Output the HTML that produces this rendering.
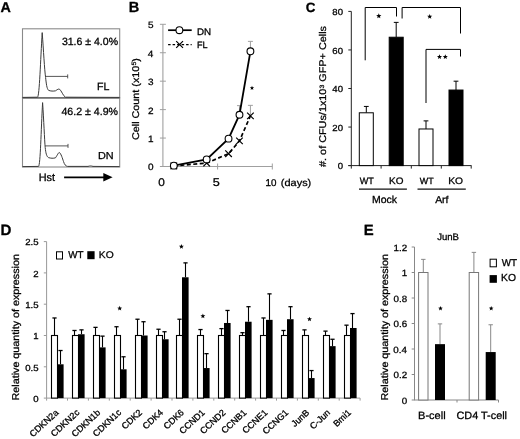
<!DOCTYPE html>
<html><head><meta charset="utf-8"><style>
html,body{margin:0;padding:0;background:#fff;width:520px;height:439px;overflow:hidden}
svg{display:block;will-change:transform;filter:blur(0.3px)}
text{font-family:"Liberation Sans", sans-serif;fill:#000;text-rendering:geometricPrecision;stroke:#000;stroke-width:0.3px}
</style></head><body>
<svg width="520" height="439" viewBox="0 0 520 439">
<text transform="translate(0.54,11.60) scale(1,1.000)" font-size="14.33" font-weight="bold">A</text>
<rect x="22.5" y="28.8" width="97.2" height="69" fill="none" stroke="#8a8a8a" stroke-width="1.1"/>
<rect x="22.5" y="97.8" width="97.2" height="69.2" fill="none" stroke="#8a8a8a" stroke-width="1.1"/>
<line x1="22.5" y1="97.8" x2="119.7" y2="97.8" stroke="#666" stroke-width="1.2"/>
<path d="M22.5,97.4 L37.5,97.2 C39.5,96 40.5,60 42.2,32.6 C43.5,50 44.5,70 45.6,77.5 C46.3,84 46.8,88.5 48.5,90.3 C50.5,91.2 53.5,91.3 55.5,90.8 C57.5,89.5 58.5,88.7 59.5,89.2 C61.5,90.5 63,96 65.5,97.2 L119.5,97.4" fill="none" stroke="#3a3a3a" stroke-width="1.0"/>
<path d="M22.5,166.6 L38.5,166.4 C40.5,165 41,130 42.6,102.6 C43.8,120 44.5,140 45.2,147.5 C45.8,153 46.5,156.5 48.5,157.6 C50.5,158.3 53.5,158.5 55.5,157.8 C57.5,155 58.5,152.2 59.4,152.5 C61,153.5 62.5,158.5 63.5,161.5 C64.5,164.5 65.5,166 67.5,166.4 L88,166.4 C90,165.8 91,165.8 93,166.4 L119.5,166.6" fill="none" stroke="#3a3a3a" stroke-width="1.0"/>
<path d="M45.1,76.4 H67.7 M67.7,74.4 V78.4" stroke="#444" stroke-width="0.9" fill="none"/>
<path d="M45.1,145.9 H68 M68,143.9 V147.9" stroke="#444" stroke-width="0.9" fill="none"/>
<text transform="translate(61.88,44.80) scale(1,0.989)" font-size="10.54">31.6 ± 4.0%</text>
<text transform="translate(96.95,89.80) scale(1,1.000)" font-size="10.62">FL</text>
<text transform="translate(61.43,114.80) scale(1,0.981)" font-size="10.63">46.2 ± 4.9%</text>
<text transform="translate(98.03,159.00) scale(1,0.934)" font-size="10.86">DN</text>
<text transform="translate(38.73,181.29) scale(1,1.000)" font-size="10.85">Hst</text>
<path d="M64.1,177.3 H104.5" stroke="#000" stroke-width="1.7"/>
<path d="M103.3,173.1 L112.6,177.3 L103.3,181.5 Z" fill="#000"/>
<text transform="translate(128.85,12.10) scale(1,1.000)" font-size="14.59" font-weight="bold">B</text>
<line x1="162.90" y1="24.30" x2="162.90" y2="166.50" stroke="#a0a0a0" stroke-width="1.1" />
<line x1="162.90" y1="166.50" x2="272.30" y2="166.50" stroke="#a0a0a0" stroke-width="1.1" />
<line x1="159.90" y1="166.50" x2="165.90" y2="166.50" stroke="#a0a0a0" stroke-width="1" />
<text transform="translate(147.95,170.37) scale(1,0.920)" font-size="10.00">0</text>
<line x1="159.90" y1="138.06" x2="165.90" y2="138.06" stroke="#a0a0a0" stroke-width="1" />
<text transform="translate(148.05,141.93) scale(1,0.920)" font-size="10.00">1</text>
<line x1="159.90" y1="109.62" x2="165.90" y2="109.62" stroke="#a0a0a0" stroke-width="1" />
<text transform="translate(148.05,113.54) scale(1,0.920)" font-size="10.00">2</text>
<line x1="159.90" y1="81.18" x2="165.90" y2="81.18" stroke="#a0a0a0" stroke-width="1" />
<text transform="translate(148.00,85.05) scale(1,0.920)" font-size="10.00">3</text>
<line x1="159.90" y1="52.74" x2="165.90" y2="52.74" stroke="#a0a0a0" stroke-width="1" />
<text transform="translate(147.85,56.61) scale(1,0.920)" font-size="10.00">4</text>
<line x1="159.90" y1="24.30" x2="165.90" y2="24.30" stroke="#a0a0a0" stroke-width="1" />
<text transform="translate(147.95,28.13) scale(1,0.920)" font-size="10.00">5</text>
<line x1="217.60" y1="163.50" x2="217.60" y2="169.50" stroke="#a0a0a0" stroke-width="1" />
<line x1="272.30" y1="163.50" x2="272.30" y2="169.50" stroke="#a0a0a0" stroke-width="1" />
<text transform="translate(158.33,186.49) scale(1,0.944)" font-size="11.79">0</text>
<text transform="translate(212.79,186.49) scale(1,0.893)" font-size="12.63">5</text>
<text transform="translate(265.52,186.30) scale(1,1.000)" font-size="9.80">10</text>
<text transform="translate(280.84,185.83) scale(1,0.898)" font-size="10.96">(days)</text>
<text transform="translate(138.80,140.04) rotate(-90) scale(1,0.900)" font-size="10.81"><tspan>Cell Count (x10</tspan><tspan font-size="6.92" dy="-2.92">5</tspan><tspan font-size="10.81" dy="2.92">)</tspan></text>
<line x1="239.48" y1="114.74" x2="239.48" y2="105.64" stroke="#a0a0a0" stroke-width="1" />
<line x1="236.98" y1="105.64" x2="241.98" y2="105.64" stroke="#a0a0a0" stroke-width="1" />
<line x1="250.42" y1="51.32" x2="250.42" y2="41.36" stroke="#a0a0a0" stroke-width="1" />
<line x1="247.92" y1="41.36" x2="252.92" y2="41.36" stroke="#a0a0a0" stroke-width="1" />
<line x1="250.42" y1="115.88" x2="250.42" y2="105.35" stroke="#a0a0a0" stroke-width="1" />
<line x1="247.92" y1="105.35" x2="252.92" y2="105.35" stroke="#a0a0a0" stroke-width="1" />
<polyline points="173.84,165.93 206.66,163.09 228.54,153.70 239.48,140.90 250.42,115.88" fill="none" stroke="#000" stroke-width="1.7" stroke-dasharray="4,2.5"/>
<polyline points="173.84,165.65 206.66,159.39 228.54,138.63 239.48,114.74 250.42,51.32" fill="none" stroke="#000" stroke-width="1.8"/>
<path d="M170.54,162.63 L177.14,169.23 M170.54,169.23 L177.14,162.63" stroke="#000" stroke-width="1.2"/>
<path d="M203.36,159.79 L209.96,166.39 M203.36,166.39 L209.96,159.79" stroke="#000" stroke-width="1.2"/>
<path d="M225.24,150.40 L231.84,157.00 M225.24,157.00 L231.84,150.40" stroke="#000" stroke-width="1.2"/>
<path d="M236.18,137.60 L242.78,144.20 M236.18,144.20 L242.78,137.60" stroke="#000" stroke-width="1.2"/>
<path d="M247.12,112.58 L253.72,119.18 M247.12,119.18 L253.72,112.58" stroke="#000" stroke-width="1.2"/>
<circle cx="173.84" cy="165.65" r="3.4" fill="#fff" stroke="#000" stroke-width="1.1"/>
<circle cx="206.66" cy="159.39" r="3.4" fill="#fff" stroke="#000" stroke-width="1.1"/>
<circle cx="228.54" cy="138.63" r="3.4" fill="#fff" stroke="#000" stroke-width="1.1"/>
<circle cx="239.48" cy="114.74" r="3.4" fill="#fff" stroke="#000" stroke-width="1.1"/>
<circle cx="250.42" cy="51.32" r="3.4" fill="#fff" stroke="#000" stroke-width="1.1"/>
<polygon points="252.00,85.75 252.59,87.24 254.19,87.34 252.95,88.36 253.35,89.91 252.00,89.05 250.65,89.91 251.05,88.36 249.81,87.34 251.41,87.24" fill="#000"/>
<line x1="168.10" y1="30.20" x2="191.70" y2="30.20" stroke="#000" stroke-width="1.7" />
<circle cx="179.4" cy="30.2" r="3.4" fill="#fff" stroke="#000" stroke-width="1.1"/>
<text transform="translate(196.92,34.50) scale(1,0.965)" font-size="9.77">DN</text>
<line x1="168.1" y1="44.6" x2="191.7" y2="44.6" stroke="#000" stroke-width="1.4" stroke-dasharray="2.5,2"/>
<path d="M176.20,41.10 L183.00,47.90 M176.20,47.90 L183.00,41.10" stroke="#000" stroke-width="1.2"/>
<text transform="translate(196.97,48.40) scale(1,1.000)" font-size="9.10">FL</text>
<text transform="translate(305.66,11.97) scale(1,1.000)" font-size="13.44" font-weight="bold">C</text>
<line x1="351.30" y1="11.40" x2="351.30" y2="165.60" stroke="#222" stroke-width="1" />
<line x1="348.30" y1="165.60" x2="471.50" y2="165.60" stroke="#222" stroke-width="1" />
<line x1="348.30" y1="165.60" x2="351.30" y2="165.60" stroke="#222" stroke-width="1" />
<text transform="translate(337.66,169.15) scale(1,0.920)" font-size="9.60">0</text>
<line x1="348.30" y1="127.05" x2="351.30" y2="127.05" stroke="#222" stroke-width="1" />
<text transform="translate(332.33,130.60) scale(1,0.920)" font-size="9.60">20</text>
<line x1="348.30" y1="88.50" x2="351.30" y2="88.50" stroke="#222" stroke-width="1" />
<text transform="translate(332.33,92.05) scale(1,0.920)" font-size="9.60">40</text>
<line x1="348.30" y1="49.95" x2="351.30" y2="49.95" stroke="#222" stroke-width="1" />
<text transform="translate(332.33,53.50) scale(1,0.920)" font-size="9.60">60</text>
<line x1="348.30" y1="11.40" x2="351.30" y2="11.40" stroke="#222" stroke-width="1" />
<text transform="translate(332.33,14.95) scale(1,0.920)" font-size="9.60">80</text>
<line x1="351.30" y1="165.60" x2="351.30" y2="168.60" stroke="#222" stroke-width="1" />
<line x1="381.10" y1="165.60" x2="381.10" y2="168.60" stroke="#222" stroke-width="1" />
<line x1="411.30" y1="165.60" x2="411.30" y2="168.60" stroke="#222" stroke-width="1" />
<line x1="441.30" y1="165.60" x2="441.30" y2="168.60" stroke="#222" stroke-width="1" />
<line x1="471.20" y1="165.60" x2="471.20" y2="168.60" stroke="#222" stroke-width="1" />
<line x1="366.30" y1="112.79" x2="366.30" y2="106.43" stroke="#000" stroke-width="1" />
<line x1="363.90" y1="106.43" x2="368.70" y2="106.43" stroke="#000" stroke-width="1" />
<rect x="359.30" y="112.79" width="14.00" height="52.81" fill="#fff" stroke="#000" stroke-width="1"/>
<line x1="396.20" y1="37.23" x2="396.20" y2="22.39" stroke="#000" stroke-width="1" />
<line x1="393.80" y1="22.39" x2="398.60" y2="22.39" stroke="#000" stroke-width="1" />
<rect x="389.20" y="37.23" width="14.00" height="128.37" fill="#000" stroke="#000" stroke-width="1"/>
<line x1="426.00" y1="128.98" x2="426.00" y2="120.88" stroke="#000" stroke-width="1" />
<line x1="423.60" y1="120.88" x2="428.40" y2="120.88" stroke="#000" stroke-width="1" />
<rect x="419.00" y="128.98" width="14.00" height="36.62" fill="#fff" stroke="#000" stroke-width="1"/>
<line x1="456.00" y1="90.04" x2="456.00" y2="81.18" stroke="#000" stroke-width="1" />
<line x1="453.60" y1="81.18" x2="458.40" y2="81.18" stroke="#000" stroke-width="1" />
<rect x="449.00" y="90.04" width="14.00" height="75.56" fill="#000" stroke="#000" stroke-width="1"/>
<path d="M365.2,60.3 V7.5 H396.5 V16.5" fill="none" stroke="#000" stroke-width="1"/>
<path d="M402.1,18.5 V7.5 H460.5 V33.5" fill="none" stroke="#000" stroke-width="1"/>
<path d="M426,103 V49.4 H460.5 V56.5" fill="none" stroke="#000" stroke-width="1"/>
<polygon points="378.80,13.35 379.48,15.12 381.37,15.22 379.89,16.41 380.39,18.23 378.80,17.20 377.21,18.23 377.71,16.41 376.23,15.22 378.12,15.12" fill="#000"/>
<polygon points="429.70,13.95 430.38,15.72 432.27,15.82 430.79,17.01 431.29,18.83 429.70,17.80 428.11,18.83 428.61,17.01 427.13,15.82 429.02,15.72" fill="#000"/>
<polygon points="439.50,54.15 440.18,55.92 442.07,56.02 440.59,57.21 441.09,59.03 439.50,58.00 437.91,59.03 438.41,57.21 436.93,56.02 438.82,55.92" fill="#000"/>
<polygon points="445.30,54.15 445.98,55.92 447.87,56.02 446.39,57.21 446.89,59.03 445.30,58.00 443.71,59.03 444.21,57.21 442.73,56.02 444.62,55.92" fill="#000"/>
<text transform="translate(359.75,183.90) scale(1,1.000)" font-size="9.08">WT</text>
<text transform="translate(389.00,183.81) scale(1,0.947)" font-size="9.96">KO</text>
<text transform="translate(419.76,183.90) scale(1,1.000)" font-size="8.95">WT</text>
<text transform="translate(448.18,183.81) scale(1,0.919)" font-size="10.27">KO</text>
<line x1="359.00" y1="189.20" x2="406.90" y2="189.20" stroke="#111" stroke-width="1.3" />
<line x1="417.50" y1="189.20" x2="465.80" y2="189.20" stroke="#111" stroke-width="1.3" />
<text transform="translate(372.06,203.10) scale(1,0.974)" font-size="10.48">Mock</text>
<text transform="translate(435.15,202.90) scale(1,0.952)" font-size="10.43">Arf</text>
<text transform="translate(326.30,166.95) rotate(-90) scale(1,0.900)" font-size="10.85"><tspan>#. of CFUs/1x10</tspan><tspan font-size="6.94" dy="-2.93">3</tspan><tspan font-size="10.85" dy="2.93"> GFP+ Cells</tspan></text>
<text transform="translate(0.42,234.60) scale(1,0.987)" font-size="15.12" font-weight="bold">D</text>
<line x1="46.60" y1="241.60" x2="46.60" y2="398.10" stroke="#999" stroke-width="1" />
<line x1="46.60" y1="398.10" x2="360.10" y2="398.10" stroke="#999" stroke-width="1" />
<line x1="43.80" y1="398.10" x2="46.60" y2="398.10" stroke="#999" stroke-width="1" />
<text transform="translate(33.26,401.80) scale(1,0.920)" font-size="9.60">0</text>
<line x1="43.80" y1="366.80" x2="46.60" y2="366.80" stroke="#999" stroke-width="1" />
<text transform="translate(25.24,370.50) scale(1,0.920)" font-size="9.60">0.5</text>
<line x1="43.80" y1="335.50" x2="46.60" y2="335.50" stroke="#999" stroke-width="1" />
<text transform="translate(33.35,339.20) scale(1,0.920)" font-size="9.60">1</text>
<line x1="43.80" y1="304.20" x2="46.60" y2="304.20" stroke="#999" stroke-width="1" />
<text transform="translate(25.24,307.85) scale(1,0.920)" font-size="9.60">1.5</text>
<line x1="43.80" y1="272.90" x2="46.60" y2="272.90" stroke="#999" stroke-width="1" />
<text transform="translate(33.35,276.64) scale(1,0.920)" font-size="9.60">2</text>
<line x1="43.80" y1="241.60" x2="46.60" y2="241.60" stroke="#999" stroke-width="1" />
<text transform="translate(25.24,245.30) scale(1,0.920)" font-size="9.60">2.5</text>
<line x1="46.60" y1="398.10" x2="46.60" y2="400.60" stroke="#999" stroke-width="1" />
<line x1="67.50" y1="398.10" x2="67.50" y2="400.60" stroke="#999" stroke-width="1" />
<line x1="88.40" y1="398.10" x2="88.40" y2="400.60" stroke="#999" stroke-width="1" />
<line x1="109.30" y1="398.10" x2="109.30" y2="400.60" stroke="#999" stroke-width="1" />
<line x1="130.20" y1="398.10" x2="130.20" y2="400.60" stroke="#999" stroke-width="1" />
<line x1="151.10" y1="398.10" x2="151.10" y2="400.60" stroke="#999" stroke-width="1" />
<line x1="172.00" y1="398.10" x2="172.00" y2="400.60" stroke="#999" stroke-width="1" />
<line x1="192.90" y1="398.10" x2="192.90" y2="400.60" stroke="#999" stroke-width="1" />
<line x1="213.80" y1="398.10" x2="213.80" y2="400.60" stroke="#999" stroke-width="1" />
<line x1="234.70" y1="398.10" x2="234.70" y2="400.60" stroke="#999" stroke-width="1" />
<line x1="255.60" y1="398.10" x2="255.60" y2="400.60" stroke="#999" stroke-width="1" />
<line x1="276.50" y1="398.10" x2="276.50" y2="400.60" stroke="#999" stroke-width="1" />
<line x1="297.40" y1="398.10" x2="297.40" y2="400.60" stroke="#999" stroke-width="1" />
<line x1="318.30" y1="398.10" x2="318.30" y2="400.60" stroke="#999" stroke-width="1" />
<line x1="339.20" y1="398.10" x2="339.20" y2="400.60" stroke="#999" stroke-width="1" />
<line x1="360.10" y1="398.10" x2="360.10" y2="400.60" stroke="#999" stroke-width="1" />
<line x1="54.50" y1="335.50" x2="54.50" y2="317.97" stroke="#000" stroke-width="1.1" />
<line x1="52.40" y1="317.97" x2="56.60" y2="317.97" stroke="#000" stroke-width="1.3" />
<line x1="60.50" y1="364.30" x2="60.50" y2="350.52" stroke="#000" stroke-width="1.1" />
<line x1="58.40" y1="350.52" x2="62.60" y2="350.52" stroke="#000" stroke-width="1.3" />
<rect x="51.50" y="335.50" width="6.00" height="62.60" fill="#fff" stroke="#000" stroke-width="1.1"/>
<rect x="57.00" y="364.30" width="6.60" height="33.80" fill="#000" stroke="none" stroke-width="0"/>
<text transform="translate(59.05,413.30) rotate(-43)" font-size="9.0" text-anchor="end">CDKN2a</text>
<line x1="74.50" y1="335.50" x2="74.50" y2="330.49" stroke="#000" stroke-width="1.1" />
<line x1="72.40" y1="330.49" x2="76.60" y2="330.49" stroke="#000" stroke-width="1.3" />
<line x1="81.50" y1="334.25" x2="81.50" y2="329.87" stroke="#000" stroke-width="1.1" />
<line x1="79.40" y1="329.87" x2="83.60" y2="329.87" stroke="#000" stroke-width="1.3" />
<rect x="72.50" y="335.50" width="6.00" height="62.60" fill="#fff" stroke="#000" stroke-width="1.1"/>
<rect x="78.00" y="334.25" width="6.60" height="63.85" fill="#000" stroke="none" stroke-width="0"/>
<text transform="translate(79.95,413.30) rotate(-43)" font-size="9.0" text-anchor="end">CDKN2c</text>
<line x1="95.50" y1="335.50" x2="95.50" y2="327.36" stroke="#000" stroke-width="1.1" />
<line x1="93.40" y1="327.36" x2="97.60" y2="327.36" stroke="#000" stroke-width="1.3" />
<line x1="102.50" y1="347.39" x2="102.50" y2="336.13" stroke="#000" stroke-width="1.1" />
<line x1="100.40" y1="336.13" x2="104.60" y2="336.13" stroke="#000" stroke-width="1.3" />
<rect x="93.50" y="335.50" width="6.00" height="62.60" fill="#fff" stroke="#000" stroke-width="1.1"/>
<rect x="99.00" y="347.39" width="6.60" height="50.71" fill="#000" stroke="none" stroke-width="0"/>
<text transform="translate(100.85,413.30) rotate(-43)" font-size="9.0" text-anchor="end">CDKN1b</text>
<line x1="116.50" y1="335.50" x2="116.50" y2="326.74" stroke="#000" stroke-width="1.1" />
<line x1="114.40" y1="326.74" x2="118.60" y2="326.74" stroke="#000" stroke-width="1.3" />
<line x1="123.50" y1="369.30" x2="123.50" y2="356.78" stroke="#000" stroke-width="1.1" />
<line x1="121.40" y1="356.78" x2="125.60" y2="356.78" stroke="#000" stroke-width="1.3" />
<rect x="114.50" y="335.50" width="6.00" height="62.60" fill="#fff" stroke="#000" stroke-width="1.1"/>
<rect x="120.00" y="369.30" width="6.60" height="28.80" fill="#000" stroke="none" stroke-width="0"/>
<text transform="translate(121.75,413.30) rotate(-43)" font-size="9.0" text-anchor="end">CDKN1c</text>
<line x1="137.50" y1="335.50" x2="137.50" y2="319.22" stroke="#000" stroke-width="1.1" />
<line x1="135.40" y1="319.22" x2="139.60" y2="319.22" stroke="#000" stroke-width="1.3" />
<line x1="143.50" y1="335.50" x2="143.50" y2="321.73" stroke="#000" stroke-width="1.1" />
<line x1="141.40" y1="321.73" x2="145.60" y2="321.73" stroke="#000" stroke-width="1.3" />
<rect x="135.50" y="335.50" width="6.00" height="62.60" fill="#fff" stroke="#000" stroke-width="1.1"/>
<rect x="141.00" y="335.50" width="6.60" height="62.60" fill="#000" stroke="none" stroke-width="0"/>
<text transform="translate(142.65,413.30) rotate(-43)" font-size="9.0" text-anchor="end">CDK2</text>
<line x1="158.50" y1="335.50" x2="158.50" y2="329.24" stroke="#000" stroke-width="1.1" />
<line x1="156.40" y1="329.24" x2="160.60" y2="329.24" stroke="#000" stroke-width="1.3" />
<line x1="164.50" y1="339.26" x2="164.50" y2="331.74" stroke="#000" stroke-width="1.1" />
<line x1="162.40" y1="331.74" x2="166.60" y2="331.74" stroke="#000" stroke-width="1.3" />
<rect x="156.50" y="335.50" width="6.00" height="62.60" fill="#fff" stroke="#000" stroke-width="1.1"/>
<rect x="162.00" y="339.26" width="6.60" height="58.84" fill="#000" stroke="none" stroke-width="0"/>
<text transform="translate(163.55,413.30) rotate(-43)" font-size="9.0" text-anchor="end">CDK4</text>
<line x1="179.50" y1="335.50" x2="179.50" y2="319.22" stroke="#000" stroke-width="1.1" />
<line x1="177.40" y1="319.22" x2="181.60" y2="319.22" stroke="#000" stroke-width="1.3" />
<line x1="185.50" y1="277.28" x2="185.50" y2="262.88" stroke="#000" stroke-width="1.1" />
<line x1="183.40" y1="262.88" x2="187.60" y2="262.88" stroke="#000" stroke-width="1.3" />
<rect x="176.50" y="335.50" width="6.00" height="62.60" fill="#fff" stroke="#000" stroke-width="1.1"/>
<rect x="182.00" y="277.28" width="6.60" height="120.82" fill="#000" stroke="none" stroke-width="0"/>
<text transform="translate(184.45,413.30) rotate(-43)" font-size="9.0" text-anchor="end">CDK6</text>
<line x1="200.50" y1="335.50" x2="200.50" y2="329.55" stroke="#000" stroke-width="1.1" />
<line x1="198.40" y1="329.55" x2="202.60" y2="329.55" stroke="#000" stroke-width="1.3" />
<line x1="206.50" y1="368.05" x2="206.50" y2="353.65" stroke="#000" stroke-width="1.1" />
<line x1="204.40" y1="353.65" x2="208.60" y2="353.65" stroke="#000" stroke-width="1.3" />
<rect x="197.50" y="335.50" width="6.00" height="62.60" fill="#fff" stroke="#000" stroke-width="1.1"/>
<rect x="203.00" y="368.05" width="6.60" height="30.05" fill="#000" stroke="none" stroke-width="0"/>
<text transform="translate(205.35,413.30) rotate(-43)" font-size="9.0" text-anchor="end">CCND1</text>
<line x1="221.50" y1="335.50" x2="221.50" y2="328.61" stroke="#000" stroke-width="1.1" />
<line x1="219.40" y1="328.61" x2="223.60" y2="328.61" stroke="#000" stroke-width="1.3" />
<line x1="227.50" y1="322.98" x2="227.50" y2="310.46" stroke="#000" stroke-width="1.1" />
<line x1="225.40" y1="310.46" x2="229.60" y2="310.46" stroke="#000" stroke-width="1.3" />
<rect x="218.50" y="335.50" width="6.00" height="62.60" fill="#fff" stroke="#000" stroke-width="1.1"/>
<rect x="224.00" y="322.98" width="6.60" height="75.12" fill="#000" stroke="none" stroke-width="0"/>
<text transform="translate(226.25,413.30) rotate(-43)" font-size="9.0" text-anchor="end">CCND2</text>
<line x1="242.50" y1="335.50" x2="242.50" y2="332.68" stroke="#000" stroke-width="1.1" />
<line x1="240.40" y1="332.68" x2="244.60" y2="332.68" stroke="#000" stroke-width="1.3" />
<line x1="248.50" y1="321.73" x2="248.50" y2="306.70" stroke="#000" stroke-width="1.1" />
<line x1="246.40" y1="306.70" x2="250.60" y2="306.70" stroke="#000" stroke-width="1.3" />
<rect x="239.50" y="335.50" width="6.00" height="62.60" fill="#fff" stroke="#000" stroke-width="1.1"/>
<rect x="245.00" y="321.73" width="6.60" height="76.37" fill="#000" stroke="none" stroke-width="0"/>
<text transform="translate(247.15,413.30) rotate(-43)" font-size="9.0" text-anchor="end">CCNB1</text>
<line x1="263.50" y1="335.50" x2="263.50" y2="317.97" stroke="#000" stroke-width="1.1" />
<line x1="261.40" y1="317.97" x2="265.60" y2="317.97" stroke="#000" stroke-width="1.3" />
<line x1="269.50" y1="319.85" x2="269.50" y2="293.87" stroke="#000" stroke-width="1.1" />
<line x1="267.40" y1="293.87" x2="271.60" y2="293.87" stroke="#000" stroke-width="1.3" />
<rect x="260.50" y="335.50" width="6.00" height="62.60" fill="#fff" stroke="#000" stroke-width="1.1"/>
<rect x="266.00" y="319.85" width="6.60" height="78.25" fill="#000" stroke="none" stroke-width="0"/>
<text transform="translate(268.05,413.30) rotate(-43)" font-size="9.0" text-anchor="end">CCNE1</text>
<line x1="283.50" y1="335.50" x2="283.50" y2="330.49" stroke="#000" stroke-width="1.1" />
<line x1="281.40" y1="330.49" x2="285.60" y2="330.49" stroke="#000" stroke-width="1.3" />
<line x1="290.50" y1="319.22" x2="290.50" y2="306.70" stroke="#000" stroke-width="1.1" />
<line x1="288.40" y1="306.70" x2="292.60" y2="306.70" stroke="#000" stroke-width="1.3" />
<rect x="281.50" y="335.50" width="6.00" height="62.60" fill="#fff" stroke="#000" stroke-width="1.1"/>
<rect x="287.00" y="319.22" width="6.60" height="78.88" fill="#000" stroke="none" stroke-width="0"/>
<text transform="translate(288.95,413.30) rotate(-43)" font-size="9.0" text-anchor="end">CCNG1</text>
<line x1="304.50" y1="335.50" x2="304.50" y2="329.87" stroke="#000" stroke-width="1.1" />
<line x1="302.40" y1="329.87" x2="306.60" y2="329.87" stroke="#000" stroke-width="1.3" />
<line x1="311.50" y1="378.07" x2="311.50" y2="370.56" stroke="#000" stroke-width="1.1" />
<line x1="309.40" y1="370.56" x2="313.60" y2="370.56" stroke="#000" stroke-width="1.3" />
<rect x="302.50" y="335.50" width="6.00" height="62.60" fill="#fff" stroke="#000" stroke-width="1.1"/>
<rect x="308.00" y="378.07" width="6.60" height="20.03" fill="#000" stroke="none" stroke-width="0"/>
<text transform="translate(309.85,413.30) rotate(-43)" font-size="9.0" text-anchor="end">JunB</text>
<line x1="325.50" y1="335.50" x2="325.50" y2="331.12" stroke="#000" stroke-width="1.1" />
<line x1="323.40" y1="331.12" x2="327.60" y2="331.12" stroke="#000" stroke-width="1.3" />
<line x1="332.50" y1="346.14" x2="332.50" y2="339.26" stroke="#000" stroke-width="1.1" />
<line x1="330.40" y1="339.26" x2="334.60" y2="339.26" stroke="#000" stroke-width="1.3" />
<rect x="323.50" y="335.50" width="6.00" height="62.60" fill="#fff" stroke="#000" stroke-width="1.1"/>
<rect x="329.00" y="346.14" width="6.60" height="51.96" fill="#000" stroke="none" stroke-width="0"/>
<text transform="translate(330.75,413.30) rotate(-43)" font-size="9.0" text-anchor="end">C-Jun</text>
<line x1="346.50" y1="335.50" x2="346.50" y2="325.17" stroke="#000" stroke-width="1.1" />
<line x1="344.40" y1="325.17" x2="348.60" y2="325.17" stroke="#000" stroke-width="1.3" />
<line x1="352.50" y1="327.99" x2="352.50" y2="313.59" stroke="#000" stroke-width="1.1" />
<line x1="350.40" y1="313.59" x2="354.60" y2="313.59" stroke="#000" stroke-width="1.3" />
<rect x="344.50" y="335.50" width="6.00" height="62.60" fill="#fff" stroke="#000" stroke-width="1.1"/>
<rect x="350.00" y="327.99" width="6.60" height="70.11" fill="#000" stroke="none" stroke-width="0"/>
<text transform="translate(351.65,413.30) rotate(-43)" font-size="9.0" text-anchor="end">Bmi1</text>
<polygon points="119.70,305.85 120.35,307.56 122.17,307.65 120.75,308.79 121.23,310.55 119.70,309.55 118.17,310.55 118.65,308.79 117.23,307.65 119.05,307.56" fill="#000"/>
<polygon points="181.40,243.95 182.05,245.66 183.87,245.75 182.45,246.89 182.93,248.65 181.40,247.65 179.87,248.65 180.35,246.89 178.93,245.75 180.75,245.66" fill="#000"/>
<polygon points="202.90,313.45 203.55,315.16 205.37,315.25 203.95,316.39 204.43,318.15 202.90,317.15 201.37,318.15 201.85,316.39 200.43,315.25 202.25,315.16" fill="#000"/>
<polygon points="309.50,316.65 310.15,318.36 311.97,318.45 310.55,319.59 311.03,321.35 309.50,320.35 307.97,321.35 308.45,319.59 307.03,318.45 308.85,318.36" fill="#000"/>
<rect x="56.50" y="251.80" width="6.00" height="7.20" fill="#fff" stroke="#000" stroke-width="1"/>
<text transform="translate(68.15,257.70) scale(1,1.000)" font-size="9.80">WT</text>
<rect x="87.30" y="251.20" width="7.30" height="8.00" fill="#000" stroke="none" stroke-width="0"/>
<text transform="translate(98.78,257.60) scale(1,0.947)" font-size="10.27">KO</text>
<text transform="translate(18.90,400.46) rotate(-90) scale(1,0.920)" font-size="10.76"><tspan>Relative quantity of expression</tspan></text>
<text transform="translate(363.83,235.00) scale(1,1.000)" font-size="14.87" font-weight="bold">E</text>
<line x1="414.50" y1="247.00" x2="414.50" y2="400.00" stroke="#888" stroke-width="1" />
<line x1="414.00" y1="400.00" x2="498.50" y2="400.00" stroke="#888" stroke-width="1" />
<line x1="411.70" y1="400.00" x2="414.50" y2="400.00" stroke="#888" stroke-width="1" />
<text transform="translate(401.65,403.51) scale(1,0.920)" font-size="9.80">0</text>
<line x1="411.70" y1="374.50" x2="414.50" y2="374.50" stroke="#888" stroke-width="1" />
<text transform="translate(393.57,378.01) scale(1,0.920)" font-size="9.80">0.2</text>
<line x1="411.70" y1="349.00" x2="414.50" y2="349.00" stroke="#888" stroke-width="1" />
<text transform="translate(393.37,352.51) scale(1,0.920)" font-size="9.80">0.4</text>
<line x1="411.70" y1="323.50" x2="414.50" y2="323.50" stroke="#888" stroke-width="1" />
<text transform="translate(393.52,327.01) scale(1,0.920)" font-size="9.80">0.6</text>
<line x1="411.70" y1="298.00" x2="414.50" y2="298.00" stroke="#888" stroke-width="1" />
<text transform="translate(393.47,301.51) scale(1,0.920)" font-size="9.80">0.8</text>
<line x1="411.70" y1="272.50" x2="414.50" y2="272.50" stroke="#888" stroke-width="1" />
<text transform="translate(401.75,276.01) scale(1,0.920)" font-size="9.80">1</text>
<line x1="411.70" y1="247.00" x2="414.50" y2="247.00" stroke="#888" stroke-width="1" />
<text transform="translate(393.57,250.56) scale(1,0.920)" font-size="9.80">1.2</text>
<line x1="457.00" y1="400.00" x2="457.00" y2="402.50" stroke="#888" stroke-width="1" />
<line x1="498.50" y1="400.00" x2="498.50" y2="402.50" stroke="#888" stroke-width="1" />
<line x1="423.30" y1="272.50" x2="423.30" y2="259.37" stroke="#888" stroke-width="1" />
<line x1="421.10" y1="259.37" x2="425.50" y2="259.37" stroke="#888" stroke-width="1" />
<rect x="418.60" y="272.50" width="9.40" height="127.50" fill="#fff" stroke="#777" stroke-width="1"/>
<line x1="440.00" y1="344.15" x2="440.00" y2="323.88" stroke="#888" stroke-width="1" />
<line x1="437.80" y1="323.88" x2="442.20" y2="323.88" stroke="#888" stroke-width="1" />
<rect x="435.00" y="344.15" width="10.00" height="55.85" fill="#000" stroke="none" stroke-width="0"/>
<line x1="473.90" y1="272.50" x2="473.90" y2="252.36" stroke="#888" stroke-width="1" />
<line x1="471.70" y1="252.36" x2="476.10" y2="252.36" stroke="#888" stroke-width="1" />
<rect x="469.20" y="272.50" width="9.40" height="127.50" fill="#fff" stroke="#777" stroke-width="1"/>
<line x1="490.70" y1="352.06" x2="490.70" y2="324.77" stroke="#888" stroke-width="1" />
<line x1="488.50" y1="324.77" x2="492.90" y2="324.77" stroke="#888" stroke-width="1" />
<rect x="485.70" y="352.06" width="10.00" height="47.94" fill="#000" stroke="none" stroke-width="0"/>
<polygon points="440.50,306.00 441.12,307.60 442.83,307.69 441.50,308.77 441.94,310.43 440.50,309.50 439.06,310.43 439.50,308.77 438.17,307.69 439.88,307.60" fill="#000"/>
<polygon points="491.20,306.00 491.82,307.60 493.53,307.69 492.20,308.77 492.64,310.43 491.20,309.50 489.76,310.43 490.20,308.77 488.87,307.69 490.58,307.60" fill="#000"/>
<text transform="translate(437.16,239.50) scale(1,1.000)" font-size="9.59">JunB</text>
<text transform="translate(418.02,418.59) scale(1,0.961)" font-size="11.04">B-cell</text>
<text transform="translate(456.46,418.59) scale(1,0.975)" font-size="10.88">CD4 T-cell</text>
<rect x="490.10" y="259.20" width="6.30" height="7.60" fill="#fff" stroke="#000" stroke-width="1"/>
<text transform="translate(501.85,265.50) scale(1,1.000)" font-size="9.80">WT</text>
<rect x="489.60" y="275.10" width="7.30" height="7.70" fill="#000" stroke="none" stroke-width="0"/>
<text transform="translate(501.07,281.30) scale(1,0.981)" font-size="10.34">KO</text>
<text transform="translate(388.10,400.46) rotate(-90) scale(1,0.920)" font-size="10.76"><tspan>Relative quantity of expression</tspan></text>
</svg>
</body></html>
